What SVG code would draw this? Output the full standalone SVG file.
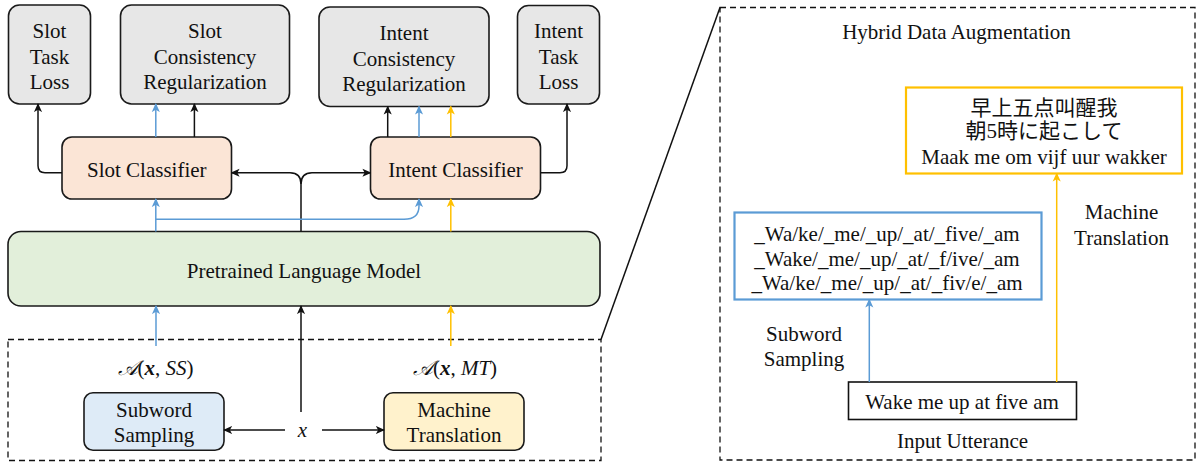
<svg xmlns="http://www.w3.org/2000/svg" width="1198" height="462" viewBox="0 0 1198 462" font-family="'Liberation Serif', 'Times New Roman', 'DejaVu Serif', serif">
<style>
text{font-family:'Liberation Serif','Times New Roman','DejaVu Serif',serif;font-size:21px;fill:#111;text-anchor:middle}
.cjk{font-family:'Liberation Serif','Noto Sans CJK SC',serif}
.jp{font-family:'Liberation Serif','Noto Sans CJK JP',serif}
.box{stroke:#1a1a1a;stroke-width:1.6}
.gray{fill:#e7e7e7}
.peach{fill:#fbe5d6}
.green{fill:#e2efda}
.lblue{fill:#deebf7}
.lyel{fill:#fff2cc}
.k{fill:none;stroke:#111;stroke-width:1.5}
.b{fill:none;stroke:#5b9bd5;stroke-width:1.5}
.y{fill:none;stroke:#ffc000;stroke-width:1.5}
.dash{fill:none;stroke:#111;stroke-width:1.3;stroke-dasharray:6 4}
</style>
<defs>
<marker id="ak" viewBox="0 0 10 10" refX="9" refY="5" markerWidth="9" markerHeight="9" markerUnits="userSpaceOnUse" orient="auto"><path d="M0,0.5 L10,5 L0,9.5 L2.5,5 z" fill="#111"/></marker>
<marker id="ab" viewBox="0 0 10 10" refX="9" refY="5" markerWidth="9" markerHeight="9" markerUnits="userSpaceOnUse" orient="auto"><path d="M0,0.5 L10,5 L0,9.5 L2.5,5 z" fill="#5b9bd5"/></marker>
<marker id="ay" viewBox="0 0 10 10" refX="9" refY="5" markerWidth="9" markerHeight="9" markerUnits="userSpaceOnUse" orient="auto"><path d="M0,0.5 L10,5 L0,9.5 L2.5,5 z" fill="#ffc000"/></marker>
</defs>

<g id="slot-task-loss"><rect class="box gray" x="8.5" y="5" width="82" height="99" rx="11"/><text x="49.5" y="38">Slot</text><text x="49.5" y="63.5">Task</text><text x="49.5" y="88.5">Loss</text></g>
<g id="slot-consistency"><rect class="box gray" x="120.5" y="5" width="169" height="99" rx="11"/><text x="205" y="38">Slot</text><text x="205" y="63.5">Consistency</text><text x="205" y="88.5">Regularization</text></g>
<g id="intent-consistency"><rect class="box gray" x="319" y="7" width="170" height="99.5" rx="11"/><text x="404" y="40">Intent</text><text x="404" y="65.5">Consistency</text><text x="404" y="91">Regularization</text></g>
<g id="intent-task-loss"><rect class="box gray" x="517.5" y="5.5" width="82" height="98.5" rx="11"/><text x="558.5" y="38">Intent</text><text x="558.5" y="63.5">Task</text><text x="558.5" y="88.5">Loss</text></g>

<g id="slot-classifier"><rect class="box peach" x="62" y="137" width="169.5" height="62" rx="10"/><text x="146.8" y="177">Slot Classifier</text></g>
<g id="intent-classifier"><rect class="box peach" x="370.5" y="137" width="170" height="62" rx="10"/><text x="455.5" y="177">Intent Classifier</text></g>

<g id="plm"><rect class="box green" x="8" y="231.5" width="592" height="74.5" rx="13"/><text x="304" y="278">Pretrained Language Model</text></g>

<g id="augmentation-area"><rect class="dash" x="8" y="339.5" width="593" height="121"/></g>
<g id="label-ss"><text x="155.5" y="375"><tspan font-family="'DejaVu Serif',serif" font-style="italic">𝒜</tspan>(<tspan font-weight="bold" font-style="italic">x</tspan>, <tspan font-style="italic">SS</tspan>)</text></g>
<g id="label-mt"><text x="455" y="375"><tspan font-family="'DejaVu Serif',serif" font-style="italic">𝒜</tspan>(<tspan font-weight="bold" font-style="italic">x</tspan>, <tspan font-style="italic">MT</tspan>)</text></g>
<g id="subword-sampling"><rect class="box lblue" x="84" y="392.7" width="140" height="57.5" rx="9"/><text x="154" y="417">Subword</text><text x="154" y="441.5">Sampling</text></g>
<g id="machine-translation"><rect class="box lyel" x="384" y="392.7" width="140" height="57.5" rx="9"/><text x="454" y="417">Machine</text><text x="454" y="441.5">Translation</text></g>
<g id="x-input"><text x="302.5" y="437" font-style="italic">x</text></g>

<g id="hybrid-panel"><rect class="dash" x="720" y="7.5" width="475" height="452.5"/><text x="956.5" y="39">Hybrid Data Augmentation</text></g>
<g id="translated-box"><rect fill="#fff" stroke="#ffc000" stroke-width="2.2" x="906" y="87.5" width="276" height="86"/><text class="cjk" x="1044" y="114.5">早上五点叫醒我</text><text class="jp" x="1044" y="138">朝5時に起こして</text><text x="1044" y="163.5">Maak me om vijf uur wakker</text></g>
<g id="subword-box"><rect fill="#fff" stroke="#5b9bd5" stroke-width="2.2" x="734.5" y="212.5" width="307" height="87"/><text x="887" y="241">_Wa/ke/_me/_up/_at/_five/_am</text><text x="887" y="265.5">_Wake/_me/_up/_at/_f/ive/_am</text><text x="887" y="290">_Wa/ke/_me/_up/_at/_fiv/e/_am</text></g>
<g id="mt-label"><text x="1121.5" y="219">Machine</text><text x="1121.5" y="245">Translation</text></g>
<g id="ss-label"><text x="804" y="340.5">Subword</text><text x="804" y="365.5">Sampling</text></g>
<g id="input-utterance"><rect fill="#fff" stroke="#111" stroke-width="1.6" x="848.5" y="382" width="228" height="37.5"/><text x="962" y="408.5">Wake me up at five am</text><text x="962.5" y="448">Input Utterance</text></g>

<g id="connectors">
<path class="k" d="M62,172.7 H45 Q38,172.7 38,165.7 V104" marker-end="url(#ak)"/>
<path class="b" d="M155.8,137 V104" marker-end="url(#ab)"/>
<path class="k" d="M194.4,137 V104" marker-end="url(#ak)"/>
<path class="k" d="M387.7,137 V106.5" marker-end="url(#ak)"/>
<path class="b" d="M419,137 V106.5" marker-end="url(#ab)"/>
<path class="y" d="M450.8,137 V106.5" marker-end="url(#ay)"/>
<path class="k" d="M540.5,172.7 H560 Q567,172.7 567,165.7 V104" marker-end="url(#ak)"/>
<path class="k" d="M301,231.5 V184 Q301,172.7 290,172.7 H231.5" marker-end="url(#ak)"/>
<path class="k" d="M301,184 Q301,172.7 312,172.7 H370.5" marker-end="url(#ak)"/>
<path class="b" d="M155.8,231.5 V199" marker-end="url(#ab)"/>
<path class="b" d="M155.8,219.3 H404 Q419,219.3 419,206 V199" marker-end="url(#ab)"/>
<path class="y" d="M450.8,231.5 V199" marker-end="url(#ay)"/>
<path class="b" d="M156,346 V306" marker-end="url(#ab)"/>
<path class="y" d="M450.8,346 V306" marker-end="url(#ay)"/>
<path class="k" d="M301,412 V306" marker-end="url(#ak)"/>
<path class="k" d="M285,430 H224" marker-end="url(#ak)"/>
<path class="k" d="M322,430 H384" marker-end="url(#ak)"/>
<path class="k" d="M601,339.5 L720,7.5" stroke-width="1.3"/>
<path class="b" d="M869.3,382 V299.5" marker-end="url(#ab)"/>
<path class="y" d="M1056.7,382 V173.5" marker-end="url(#ay)"/>
</g>
</svg>
